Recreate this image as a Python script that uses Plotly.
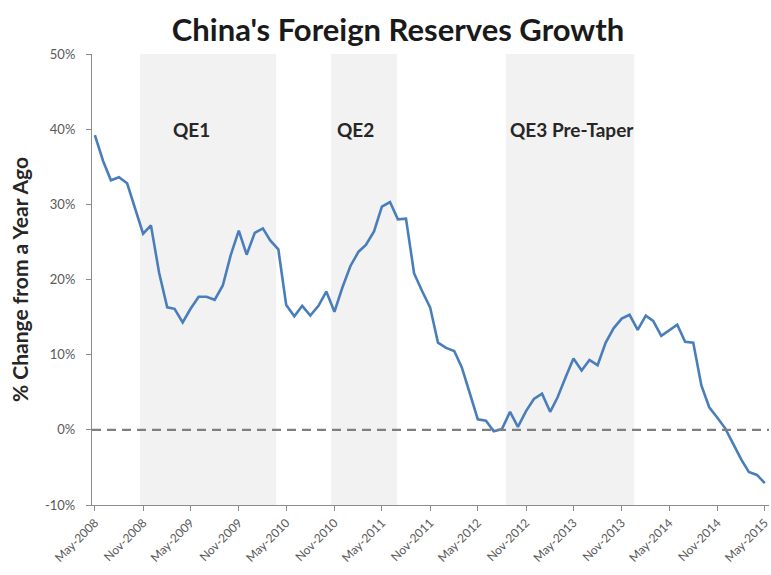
import pandas as pd
import plotly.graph_objects as go

# Monthly year-over-year change in China's foreign reserves (%), May-2008 .. May-2015
months = pd.date_range("2008-05-01", "2015-05-01", freq="MS")
growth = [
    39.2, 35.8, 33.2, 33.6, 32.8, 29.4, 26.1, 27.2, 20.9, 16.3,
    16.1, 14.3, 16.1, 17.7, 17.7, 17.3, 19.2, 23.2, 26.5, 23.3,
    26.2, 26.8, 25.2, 24.0, 16.6, 15.1, 16.5, 15.2, 16.5, 18.4,
    15.7, 18.9, 21.8, 23.7, 24.6, 26.4, 29.7, 30.3, 28.0, 28.1,
    20.8, 18.5, 16.3, 11.6, 10.9, 10.5, 8.3, 4.8, 1.4, 1.2,
    -0.2, 0.1, 2.4, 0.4, 2.5, 4.1, 4.8, 2.4, 4.3, 7.0,
    9.5, 7.9, 9.3, 8.6, 11.6, 13.5, 14.8, 15.3, 13.3, 15.2,
    14.5, 12.5, 13.2, 14.0, 11.7, 11.6, 5.9, 3.0, 1.6, 0.2,
    -1.9, -4.0, -5.6, -6.0, -7.1,
]

# Half-yearly date ticks
x_ticks = months[::6]
x_tick_text = [d.strftime("%b-%Y") for d in x_ticks]

# Fed asset-purchase programmes shaded behind the line
qe_names = ["QE1", "QE2", "QE3 Pre-Taper"]
qe_starts = ["2008-10-20", "2010-10-19", "2012-08-16"]
qe_ends = ["2010-03-24", "2011-06-28", "2013-12-19"]
qe_label_dates = ["2009-05-05", "2011-01-20", "2013-04-25"]

y_ticks = [-10, 0, 10, 20, 30, 40, 50]

FONT = "Lato, 'Open Sans', sans-serif"
AXIS_GREY = "#8c8c8c"
TEXT_GREY = "#595959"

fig = go.Figure()

fig.add_trace(go.Scatter(
    x=months, y=growth, mode="lines",
    line=dict(color="#4a7ebb", width=2.6),
    showlegend=False, hoverinfo="skip",
))

shapes = []
for s, e in zip(qe_starts, qe_ends):
    shapes.append(dict(
        type="rect", xref="x", yref="paper", x0=s, x1=e, y0=0, y1=1,
        fillcolor="#f2f2f2", line=dict(width=0), layer="below",
    ))
# zero reference line
shapes.append(dict(
    type="line", xref="paper", yref="y", x0=0, x1=1, y0=0, y1=0,
    line=dict(color="#7f7f7f", width=2.4, dash="9px,6px"), layer="above",
))

annotations = [
    dict(x=d, y=40, xref="x", yref="y", text=n, showarrow=False,
         font=dict(family=FONT, size=19, color="#262626", weight="bold"))
    for n, d in zip(qe_names, qe_label_dates)
]

fig.update_layout(
    width=771, height=575,
    margin=dict(l=92, r=0, t=54, b=70),
    paper_bgcolor="white", plot_bgcolor="white",
    title=dict(
        text="<b>China's Foreign Reserves Growth</b>",
        x=398 / 771, xanchor="center", y=1 - 30 / 575, yanchor="middle",
        font=dict(family=FONT, size=31, color="#1a1a1a"),
    ),
    shapes=shapes,
    annotations=annotations,
    xaxis=dict(
        type="date",
        range=["2008-04-20", "2015-05-17"],
        tickvals=x_ticks, ticktext=x_tick_text,
        tickangle=-45, ticklabeloverflow="allow",
        ticks="outside", ticklen=5, tickcolor=AXIS_GREY,
        showline=True, linecolor=AXIS_GREY, linewidth=1.2,
        showgrid=False, zeroline=False,
        tickfont=dict(family=FONT, size=12, color=TEXT_GREY),
    ),
    yaxis=dict(
        range=[-10, 50],
        tickvals=y_ticks, ticktext=[f"{v}%" for v in y_ticks],
        ticks="outside", ticklen=5, tickcolor=AXIS_GREY,
        showline=True, linecolor=AXIS_GREY, linewidth=1.2,
        showgrid=False, zeroline=False, ticklabelstandoff=8,
        tickfont=dict(family=FONT, size=13, color=TEXT_GREY),
        title=dict(
            text="<b>% Change from a Year Ago</b>", standoff=10,
            font=dict(family=FONT, size=21, color="#262626"),
        ),
    ),
)

fig.write_html("out.html")
